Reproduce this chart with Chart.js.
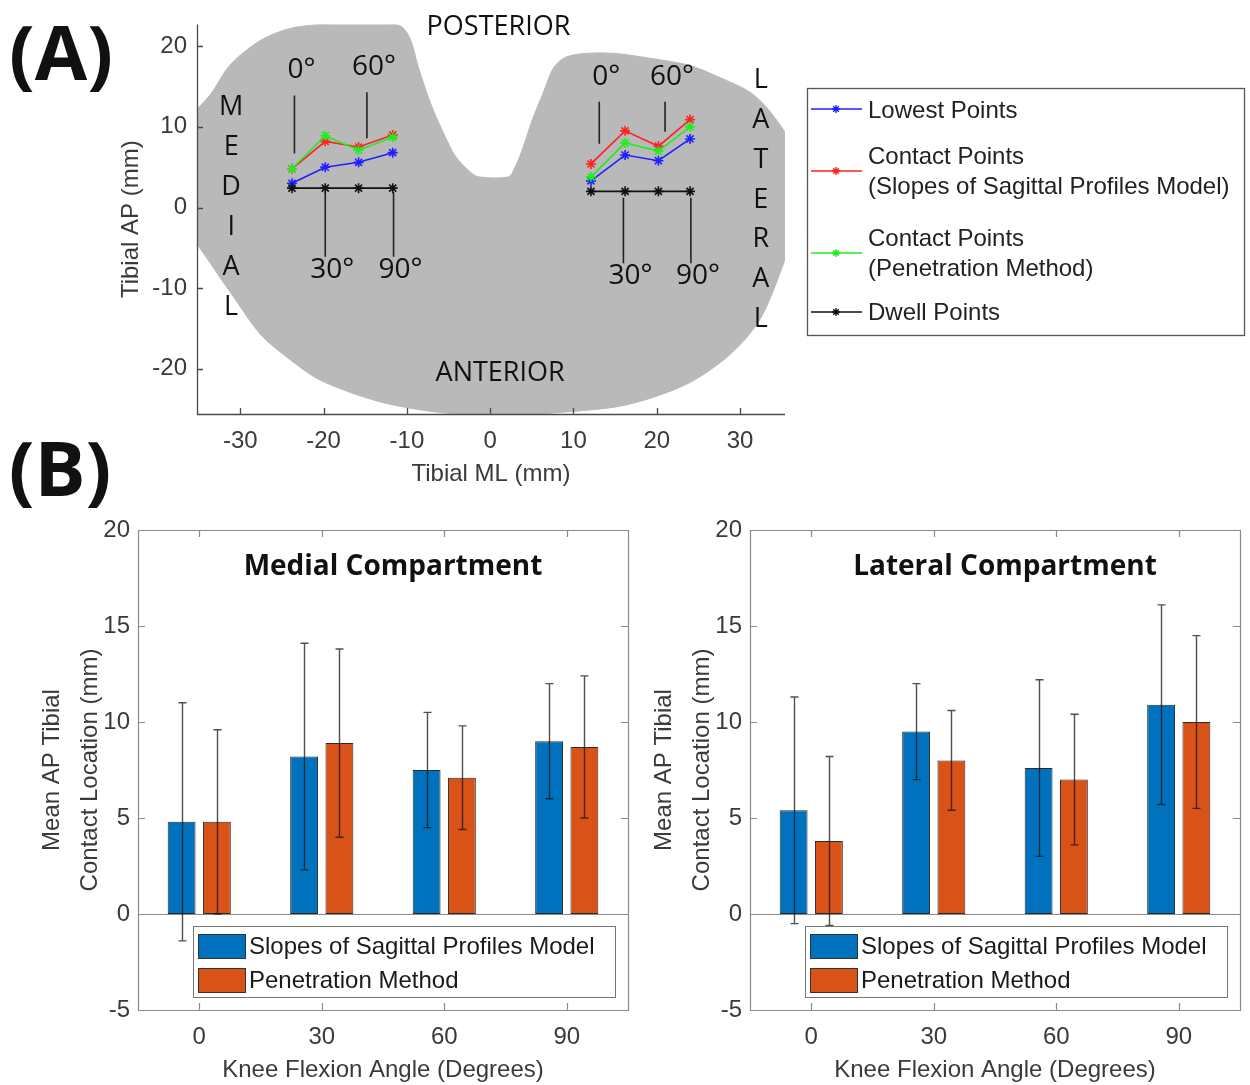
<!DOCTYPE html>
<html>
<head>
<meta charset="utf-8">
<title>Tibial contact locations</title>
<script src="https://cdn.jsdelivr.net/npm/chart.js@4.4.1/dist/chart.umd.min.js"></script>
<style>
  body { margin: 0; background: #fff; }
  .wrap { position: relative; width: 1250px; height: 1085px; overflow: hidden; }
  canvas { position: absolute; }
</style>
</head>
<body>
<div class="wrap">
  <canvas id="chartA" width="1250" height="540" style="left:0;top:0"></canvas>
  <canvas id="chartMed" width="638" height="595" style="left:0;top:490px"></canvas>
  <canvas id="chartLat" width="638" height="595" style="left:612px;top:490px"></canvas>
</div>
<script>
/* ---------- data ---------- */
const angleLabels = ['0', '30', '60', '90'];

// Panel A: ML position (mm) of the 0/30/60/90 deg points in each compartment
const medialML  = [-23.8, -19.8, -15.8, -11.7];
const lateralML = [12.1, 16.2, 20.2, 24.0];

// Panel A: AP position (mm)
const lowestMedial  = [3.0, 5.0, 5.6, 6.8];
const lowestLateral = [3.3, 6.5, 5.8, 8.5];
const dwellMedial   = [2.4, 2.4, 2.4, 2.4];
const dwellLateral  = [2.0, 2.0, 2.0, 2.0];

// Panel B means (same values are the contact points of panel A) and SDs
const slopesMedial    = [4.8, 8.2, 7.5, 9.0];
const slopesMedialSD  = [6.2, 5.9, 3.0, 3.0];
const penMedial       = [4.8, 8.9, 7.1, 8.7];
const penMedialSD     = [4.8, 4.9, 2.7, 3.7];
const slopesLateral   = [5.4, 9.5, 7.6, 10.9];
const slopesLateralSD = [5.9, 2.5, 4.6, 5.2];
const penLateral      = [3.8, 8.0, 7.0, 10.0];
const penLateralSD    = [4.4, 2.6, 3.4, 4.5];

// Tibial plateau outline (mm), clockwise from the medial side
const tibiaML = [-36, -33.6, -31.2, -27.6, -24.0, -19.2, -14.4, -10.8, -9.6, -8.6, -7.0, -5.4, -4.2, -2.6, -1.4,
                 2.2, 2.9, 3.8, 5.0, 6.4, 7.6, 9.0, 11.4, 15.0, 19.2, 24.0, 27.6, 31.2, 33.6, 36.0, 36.5,
                 36.2, 34.6, 32.2, 28.6, 23.4, 16.2, 8.4, 1.2, -6.0, -13.2, -20.4, -24.6, -27.6, -31.2, -33.6, -35.6, -36.3, -36];
const tibiaAP = [11.3, 14.0, 17.7, 20.7, 22.2, 22.8, 22.9, 22.5, 20.9, 17.3, 12.5, 8.8, 6.4, 4.6, 3.8,
                 3.8, 4.8, 7.0, 10.7, 14.3, 17.3, 18.6, 19.1, 19.1, 18.5, 17.6, 16.1, 14.3, 11.9, 8.0, 2.8,
                 -3.3, -8.7, -14.2, -18.4, -22.0, -24.5, -25.4, -25.8, -25.4, -24.1, -21.4, -18.4, -15.7, -10.5, -6.9, -3.5, 3.5, 11.3];

// Leader lines for the angle labels (mm)
const calloutML   = [-23.5, -14.8, -19.8, -11.6, 13.1, 21.0, 16.0, 24.1];
const calloutNear = [6.7, 8.6, 1.9, 1.9, 7.9, 9.4, 1.2, 1.2];
const calloutFar  = [13.9, 14.3, -6.1, -6.1, 13.1, 13.1, -6.9, -6.9];
const calloutText = ['0°', '60°', '30°', '90°', '0°', '60°', '30°', '90°'];

const xTicksA = [-30, -20, -10, 0, 10, 20, 30];
const yTicksA = [-20, -10, 0, 10, 20];
const yTicksB = [-5, 0, 5, 10, 15, 20];

const seriesNamesA = ['Lowest Points', 'Contact Points\n(Slopes of Sagittal Profiles Model)',
                      'Contact Points\n(Penetration Method)', 'Dwell Points'];
const seriesNamesB = ['Slopes of Sagittal Profiles Model', 'Penetration Method'];

/* ---------- shared look ---------- */
const SANS = '"Liberation Sans", Arial, sans-serif';
const OPEN = '"Open Sans", sans-serif';
Chart.defaults.font.family = SANS;
Chart.defaults.color = '#3a3a3a';
const colA = { lowest: '#1f1fff', slopes: '#ff2020', pen: '#20ee20', dwell: '#111' };
const colB = { slopes: '#0072BD', pen: '#D95319' };

const pts = (xs, ys) => xs.map((x, i) => ({ x, y: ys[i] }));

/* ---------- plugins ---------- */
// MATLAB-like axes: box or L-shaped, ticks pointing inward
const framePlugin = {
  id: 'frame',
  afterDatasetsDraw(chart, args, o) {
    const { ctx, chartArea: a, scales: { x, y } } = chart;
    ctx.save();
    ctx.strokeStyle = o.color;
    ctx.lineWidth = o.width;
    ctx.beginPath();
    if (o.zero) {
      const z = Math.round(y.getPixelForValue(0)) + 0.5;
      ctx.moveTo(a.left, z); ctx.lineTo(a.right, z);
    }
    if (o.box) {
      ctx.rect(a.left + 0.5, a.top + 0.5, a.width, a.height);
    } else {
      ctx.moveTo(a.left + 0.5, a.top); ctx.lineTo(a.left + 0.5, a.bottom + 0.5); ctx.lineTo(a.right, a.bottom + 0.5);
    }
    const L = o.tick;
    x.ticks.forEach((t, i) => {
      const px = Math.round(x.getPixelForTick(i)) + 0.5;
      ctx.moveTo(px, a.bottom); ctx.lineTo(px, a.bottom - L);
      if (o.box) { ctx.moveTo(px, a.top); ctx.lineTo(px, a.top + L); }
    });
    y.ticks.forEach((t, i) => {
      const py = Math.round(y.getPixelForTick(i)) + 0.5;
      ctx.moveTo(a.left, py); ctx.lineTo(a.left + L, py);
      if (o.box) { ctx.moveTo(a.right, py); ctx.lineTo(a.right - L, py); }
    });
    ctx.stroke();
    ctx.restore();
  }
};

// error bars on top of the bars
const errorBarPlugin = {
  id: 'errbars',
  afterDatasetsDraw(chart) {
    const { ctx, scales: { y } } = chart;
    ctx.save();
    ctx.strokeStyle = 'rgba(20,20,20,0.75)';
    ctx.lineWidth = 1.4;
    chart.data.datasets.forEach((ds, di) => {
      const meta = chart.getDatasetMeta(di);
      meta.data.forEach((bar, j) => {
        const hi = y.getPixelForValue(ds.data[j] + ds.sd[j]);
        const lo = y.getPixelForValue(ds.data[j] - ds.sd[j]);
        const x = Math.round(bar.x) + 0.5;
        ctx.beginPath();
        ctx.moveTo(x, hi); ctx.lineTo(x, lo);
        ctx.moveTo(x - 4, hi); ctx.lineTo(x + 4, hi);
        ctx.moveTo(x - 4, lo); ctx.lineTo(x + 4, lo);
        ctx.stroke();
      });
    });
    ctx.restore();
  }
};

// title + legend inside the bar charts
const panelBDecor = {
  id: 'decorB',
  afterDraw(chart, args, o) {
    const { ctx, chartArea: a } = chart;
    ctx.save();
    ctx.fillStyle = '#111';
    ctx.font = 'bold 28px ' + OPEN;
    ctx.textAlign = 'center';
    ctx.textBaseline = 'middle';
    ctx.fillText(o.title, (a.left + a.right) / 2 + 10, a.top + 37);

    const bx = a.left + 55, by = a.top + 396, bw = 422, bh = 71;
    ctx.fillStyle = '#fff';
    ctx.fillRect(bx, by, bw, bh);
    ctx.strokeStyle = '#777';
    ctx.lineWidth = 1;
    ctx.strokeRect(bx + 0.5, by + 0.5, bw, bh);
    ctx.font = '24px ' + SANS;
    ctx.textAlign = 'left';
    chart.data.datasets.forEach((ds, i) => {
      const sy = by + 8 + i * 34;
      ctx.fillStyle = ds.backgroundColor;
      ctx.fillRect(bx + 5, sy, 47, 24);
      ctx.strokeStyle = '#333';
      ctx.strokeRect(bx + 5.5, sy + 0.5, 47, 24);
      ctx.fillStyle = '#1a1a1a';
      ctx.fillText(ds.label, bx + 56, sy + 13);
    });
    ctx.restore();
  }
};

// text of panel A: angle labels, MEDIAL / LATERAL, POSTERIOR / ANTERIOR, legend, panel tags
const panelADecor = {
  id: 'decorA',
  afterDraw(chart) {
    const { ctx, scales: { x, y } } = chart;
    const up4 = -4; // Open Sans sits low on a 'middle' baseline
    ctx.save();
    ctx.fillStyle = '#111';
    ctx.textAlign = 'center';
    ctx.textBaseline = 'middle';

    ctx.font = '28px ' + OPEN;
    calloutText.forEach((t, i) => {
      const px = x.getPixelForValue(calloutML[i]) + 7;
      const up = calloutFar[i] > calloutNear[i];
      const py = y.getPixelForValue(calloutFar[i]) + (up ? -21 : 17) + up4;
      ctx.fillText(t, px, py);
    });

    ctx.font = '27px ' + OPEN;
    'MEDIAL'.split('').forEach((c, i) => ctx.fillText(c, x.getPixelForValue(-31.1), y.getPixelForValue(11.9 - i * 4.95) + up4));
    'LATERAL'.split('').forEach((c, i) => ctx.fillText(c, x.getPixelForValue(32.5), y.getPixelForValue(15.3 - i * 4.95) + up4));
    ctx.fillText('POSTERIOR', x.getPixelForValue(1.0), y.getPixelForValue(21.9) + up4);
    ctx.fillText('ANTERIOR', x.getPixelForValue(1.2), y.getPixelForValue(-21.1) + up4);

    // panel tags
    ctx.font = 'bold 76px ' + OPEN;
    ctx.fillText('(A)', 61, 58);
    ctx.fillText('(B)', 60, 474);

    // legend
    ctx.fillStyle = '#fff';
    ctx.fillRect(807, 88, 438, 248);
    ctx.strokeStyle = '#555';
    ctx.lineWidth = 1.3;
    ctx.strokeRect(807.5, 88.5, 437, 247);
    const colors = [colA.lowest, colA.slopes, colA.pen, colA.dwell];
    const sampleY = [109, 171, 253, 312];
    const textY = [[111], [157, 187], [239, 269], [313]];
    ctx.font = '24px ' + SANS;
    ctx.textAlign = 'left';
    seriesNamesA.forEach((name, i) => {
      ctx.strokeStyle = colors[i];
      ctx.fillStyle = colors[i];
      ctx.lineWidth = 1.4;
      ctx.beginPath();
      ctx.moveTo(811, sampleY[i]); ctx.lineTo(862, sampleY[i]);
      ctx.stroke();
      Chart.helpers.drawPoint(ctx, { pointStyle: 'star', radius: 4, borderWidth: 1.4, rotation: 0 }, 836, sampleY[i]);
      ctx.fillStyle = '#222';
      name.split('\n').forEach((line, k) => ctx.fillText(line, 868, textY[i][k]));
    });
    ctx.restore();
  }
};

/* ---------- panel A ---------- */
function series(color, xs, ys, order) {
  return {
    data: pts(xs, ys), borderColor: color, backgroundColor: color, borderWidth: 1.6,
    pointStyle: 'star', pointRadius: 5, pointBorderWidth: 1.6, pointBorderColor: color,
    tension: 0, fill: false, order
  };
}

const datasetsA = [
  {
    data: pts(tibiaML, tibiaAP), fill: 'shape', backgroundColor: '#b9b9b9',
    borderColor: '#b9b9b9', borderWidth: 1, pointRadius: 0, tension: 0.3, order: 20
  }
];
calloutML.forEach((m, i) => {
  datasetsA.push({
    data: [{ x: m, y: calloutNear[i] }, { x: m, y: calloutFar[i] }],
    borderColor: '#222', borderWidth: 1.6, pointRadius: 0, fill: false, order: 10
  });
});
datasetsA.push(
  series(colA.lowest, medialML, lowestMedial, 4), series(colA.lowest, lateralML, lowestLateral, 4),
  series(colA.slopes, medialML, slopesMedial, 3), series(colA.slopes, lateralML, slopesLateral, 3),
  series(colA.pen, medialML, penMedial, 2), series(colA.pen, lateralML, penLateral, 2),
  series(colA.dwell, medialML, dwellMedial, 1), series(colA.dwell, lateralML, dwellLateral, 1)
);

const noGrid = { display: false, drawTicks: false };

new Chart(document.getElementById('chartA'), {
  type: 'line',
  data: { datasets: datasetsA },
  plugins: [framePlugin, panelADecor],
  options: {
    responsive: false, animation: false,
    layout: { padding: { left: 117, right: 465, top: 16, bottom: 51 } },
    plugins: {
      legend: { display: false }, tooltip: { enabled: false },
      frame: { color: '#4a4a4a', width: 1.3, tick: 6, box: false }
    },
    scales: {
      x: {
        type: 'linear', min: -35.2, max: 35.4,
        afterBuildTicks: s => { s.ticks = xTicksA.map(v => ({ value: v })); },
        afterFit: s => { s.height = 75; },
        grid: noGrid, border: { display: false },
        ticks: { font: { size: 24 }, padding: 13, maxRotation: 0 },
        title: { display: true, text: 'Tibial ML (mm)', font: { size: 24 }, padding: 0 }
      },
      y: {
        type: 'linear', min: -25.6, max: 22.7,
        afterBuildTicks: s => { s.ticks = yTicksA.map(v => ({ value: v })); },
        afterFit: s => { s.width = 80; },
        grid: noGrid, border: { display: false },
        ticks: { font: { size: 24 }, padding: 10 },
        title: { display: true, text: 'Tibial AP (mm)', font: { size: 24 }, padding: 0 }
      }
    }
  }
});

/* ---------- panel B ---------- */
function barChart(id, title, slopes, slopesSD, pen, penSD) {
  const common = { borderColor: '#2a2a2a', borderWidth: 1, borderSkipped: false,
                   categoryPercentage: 0.576, barPercentage: 0.79 };
  new Chart(document.getElementById(id), {
    type: 'bar',
    data: {
      labels: angleLabels,
      datasets: [
        Object.assign({ label: seriesNamesB[0], data: slopes, sd: slopesSD, backgroundColor: colB.slopes }, common),
        Object.assign({ label: seriesNamesB[1], data: pen, sd: penSD, backgroundColor: colB.pen }, common)
      ]
    },
    plugins: [framePlugin, errorBarPlugin, panelBDecor],
    options: {
      responsive: false, animation: false,
      layout: { padding: { left: 33, right: 10, top: 40, bottom: 0 } },
      plugins: {
        legend: { display: false }, tooltip: { enabled: false },
        frame: { color: '#8a8a8a', width: 1.2, tick: 7, box: true, zero: true },
        decorB: { title }
      },
      scales: {
        x: {
          afterFit: s => { s.height = 75; },
          grid: noGrid, border: { display: false },
          ticks: { font: { size: 24 }, padding: 13 },
          title: { display: true, text: 'Knee Flexion Angle (Degrees)', font: { size: 24 }, padding: 0 }
        },
        y: {
          min: -5, max: 20,
          afterBuildTicks: s => { s.ticks = yTicksB.map(v => ({ value: v })); },
          afterFit: s => { s.width = 105; },
          grid: noGrid, border: { display: false },
          ticks: { font: { size: 24 }, padding: 8 },
          title: { display: true, text: ['Mean AP Tibial', 'Contact Location (mm)'],
                   font: { size: 24, lineHeight: 1.583 }, padding: 0 }
        }
      }
    }
  });
}

barChart('chartMed', 'Medial Compartment', slopesMedial, slopesMedialSD, penMedial, penMedialSD);
barChart('chartLat', 'Lateral Compartment', slopesLateral, slopesLateralSD, penLateral, penLateralSD);
</script>
</body>
</html>
